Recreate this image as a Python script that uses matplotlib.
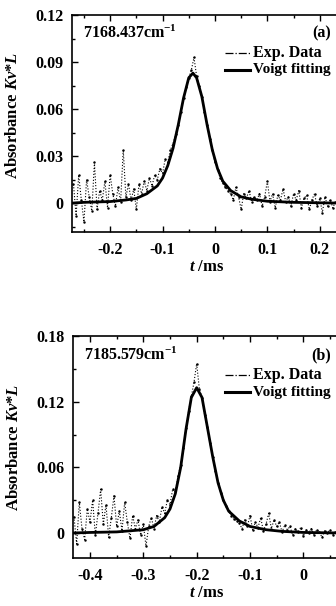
import numpy as np
import matplotlib
matplotlib.use('Agg')
import matplotlib.pyplot as plt
from matplotlib.ticker import MultipleLocator, FixedLocator

plt.rcParams['font.family'] = 'Liberation Serif'
plt.rcParams['font.weight'] = 'bold'
plt.rcParams['axes.labelweight'] = 'bold'
plt.rcParams['mathtext.fontset'] = 'custom'
plt.rcParams['mathtext.rm'] = 'Liberation Serif:bold'
plt.rcParams['mathtext.it'] = 'Liberation Serif:italic:bold'
plt.rcParams['mathtext.bf'] = 'Liberation Serif:bold'

# ---- panel (a): 7168.437 cm-1 ----
fit_t_a = [-0.273, -0.25, -0.2, -0.17, -0.15, -0.13, -0.11, -0.1, -0.09, -0.08,
           -0.07, -0.06, -0.05, -0.042, -0.035, -0.025, -0.015, -0.005, 0.005,
           0.015, 0.03, 0.05, 0.07, 0.1, 0.15, 0.2, 0.24]
fit_y_a = [0.000, 0.0005, 0.001, 0.002, 0.003, 0.006, 0.011, 0.016, 0.024, 0.035,
           0.050, 0.067, 0.080, 0.083, 0.080, 0.068, 0.050, 0.034, 0.022,
           0.014, 0.008, 0.004, 0.0025, 0.0012, 0.0005, 0.0002, 0.0]
exp_t_a = np.round(np.arange(-0.270, 0.2351, 0.005), 3)
exp_y_a = [0.012, -0.008, 0.018, 0.002, -0.012, 0.015, 0.004, -0.005, 0.026, -0.004,
           0.008, 0.002, 0.014, -0.003, 0.018, 0.006, -0.002, 0.010, 0.001, 0.034,
           0.004, 0.012, 0.002, 0.009, -0.004, 0.012, 0.006, 0.014, 0.008, 0.016,
           0.011, 0.018, 0.015, 0.022, 0.019, 0.028, 0.026, 0.034, 0.038, 0.044,
           0.050, 0.058, 0.067, 0.074, 0.080, 0.085, 0.093, 0.081, 0.075, 0.068,
           0.058, 0.050, 0.041, 0.034, 0.026, 0.021, 0.016, 0.013, 0.010, 0.008,
           0.006, 0.002, 0.010, 0.004, -0.004, 0.006, 0.003, 0.008, 0.001, 0.004,
           0.002, 0.006, -0.002, 0.004, 0.014, 0.001, 0.006, -0.003, 0.005, 0.002,
           0.009, 0.001, 0.004, -0.002, 0.006, 0.002, 0.008, -0.003, 0.003, 0.005,
           -0.004, 0.002, 0.006, -0.002, 0.003, -0.006, 0.004, -0.002, 0.002, -0.003,
           0.001, -0.002]

# ---- panel (b): 7185.579 cm-1 ----
fit_t_b = [-0.433, -0.4, -0.35, -0.3, -0.28, -0.26, -0.25, -0.24, -0.23, -0.22,
           -0.21, -0.2, -0.19, -0.18, -0.17, -0.16, -0.15, -0.14, -0.12, -0.1,
           -0.07, -0.04, 0.0, 0.07]
fit_y_b = [0.000, 0.0005, 0.001, 0.003, 0.006, 0.014, 0.022, 0.036, 0.060, 0.095,
           0.124, 0.133, 0.124, 0.097, 0.070, 0.046, 0.030, 0.020, 0.011, 0.006,
           0.003, 0.0015, 0.0005, 0.0]
exp_t_b = np.round(np.arange(-0.430, 0.0651, 0.005), 3)
exp_y_b = [0.015, -0.010, 0.028, 0.004, -0.006, 0.022, 0.010, 0.030, -0.002, 0.018,
           0.040, 0.008, 0.026, -0.004, 0.014, 0.034, 0.006, 0.020, 0.002, 0.028,
           0.010, -0.005, 0.016, 0.004, 0.012, -0.002, 0.008, -0.012, 0.006, 0.014,
           0.004, 0.016, 0.010, 0.024, 0.018, 0.030, 0.026, 0.040, 0.038, 0.052,
           0.062, 0.078, 0.096, 0.112, 0.125, 0.138, 0.155, 0.132, 0.124, 0.108,
           0.097, 0.082, 0.070, 0.057, 0.046, 0.037, 0.030, 0.025, 0.020, 0.016,
           0.013, 0.011, 0.009, 0.004, 0.012, 0.006, 0.016, 0.003, 0.010, 0.005,
           0.014, 0.002, 0.008, 0.018, 0.004, 0.012, 0.006, 0.010, 0.001, 0.007,
           0.003, 0.006, -0.002, 0.004, 0.001, 0.005, -0.003, 0.003, 0.000, 0.004,
           -0.002, 0.003, 0.001, -0.004, 0.002, 0.000, 0.003, -0.002, 0.001, 0.000]

yticks_a = [0, 0.03, 0.06, 0.09, 0.12]
ylabels_a = ['0', '0.03', '0.06', '0.09', '0.12']
xticks_a = [-0.2, -0.1, 0, 0.1, 0.2]
xlabels_a = ['-0.2', '-0.1', '0', '0.1', '0.2']
yticks_b = [0, 0.06, 0.12, 0.18]
ylabels_b = ['0', '0.06', '0.12', '0.18']
xticks_b = [-0.4, -0.3, -0.2, -0.1, 0]
xlabels_b = ['-0.4', '-0.3', '-0.2', '-0.1', '0']


def draw_panel(ax, exp_t, exp_y, fit_t, fit_y, xlim, ylim, xt, xl, yt, yl,
               ymin_step, wavenum, tag, ylab_y):
    ax.plot(exp_t, exp_y, color='black', linestyle=':', linewidth=0.8,
            marker='.', markersize=1.5)
    ax.plot(fit_t, fit_y, color='black', linewidth=2.0)
    ax.set_xlim(*xlim)
    ax.set_ylim(*ylim)
    ax.xaxis.set_major_locator(FixedLocator(xt))
    ax.set_xticklabels(xl)
    ax.yaxis.set_major_locator(FixedLocator(yt))
    ax.set_yticklabels(yl)
    ax.xaxis.set_minor_locator(MultipleLocator(0.05))
    ax.yaxis.set_minor_locator(MultipleLocator(ymin_step))
    ax.tick_params(which='both', direction='in', top=True, right=False,
                   labelsize=11.5, width=1.0)
    ax.tick_params(axis='x', pad=7)
    ax.tick_params(axis='y', pad=6)
    ax.tick_params(which='major', length=4)
    ax.tick_params(which='minor', length=2)
    for sp in ax.spines.values():
        sp.set_linewidth(1.2)
    ax.set_xlabel(r'$t$ /ms', fontsize=12, labelpad=1)
    ax.set_ylabel(r'Absorbance $K\nu$*$L$', fontsize=12)
    ax.yaxis.set_label_coords(-0.19, ylab_y)
    ax.text(0.042, 0.915, wavenum + r'cm$^{-1}$', transform=ax.transAxes,
            fontsize=11.5, va='center', ha='left')
    ax.text(0.965, 0.915, tag, transform=ax.transAxes,
            fontsize=11.5, va='center', ha='right')
    # legend drawn by hand
    ax.plot([0.568, 0.663], [0.824, 0.824], transform=ax.transAxes,
            color='black', linestyle='-.', linewidth=0.9, clip_on=False)
    ax.plot([0.568, 0.663], [0.748, 0.748], transform=ax.transAxes,
            color='black', linestyle='-', linewidth=2.2, clip_on=False)
    ax.text(0.672, 0.824, 'Exp. Data', transform=ax.transAxes,
            fontsize=11.5, va='center', ha='left')
    ax.text(0.672, 0.748, 'Voigt fitting', transform=ax.transAxes,
            fontsize=11, va='center', ha='left')


fig = plt.figure(figsize=(3.36, 6.06), dpi=100)
ax_a = fig.add_axes([0.214, 0.617, 0.80, 0.358])
ax_b = fig.add_axes([0.217, 0.079, 0.797, 0.366])

draw_panel(ax_a, exp_t_a, exp_y_a, fit_t_a, fit_y_a, (-0.273, 0.24), (-0.0185, 0.12),
           xticks_a, xlabels_a, yticks_a, ylabels_a, 0.015, '7168.437', '(a)', 0.54)
draw_panel(ax_b, exp_t_b, exp_y_b, fit_t_b, fit_y_b, (-0.432, 0.07), (-0.023, 0.18),
           xticks_b, xlabels_b, yticks_b, ylabels_b, 0.03, '7185.579', '(b)', 0.5)

fig.savefig('out.png', dpi=100)
